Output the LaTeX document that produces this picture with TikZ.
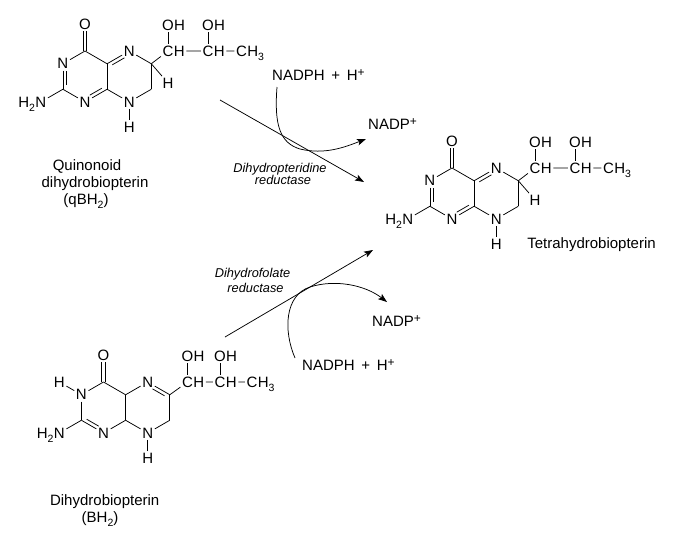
\documentclass[tikz,border=0pt]{standalone}
\usepackage{fontspec}
\setmainfont{Liberation Sans}
\usetikzlibrary{arrows.meta,calc}
\newcommand\sbs[1]{\raisebox{-0.28em}{\fontsize{10.5}{10.5}\selectfont #1}}
\newcommand\sps[1]{\raisebox{0.25em}{\fontsize{12}{12}\selectfont #1}}
\tikzset{
  atom/.style={inner sep=1.5pt, font=\fontsize{15}{15}\selectfont},
  hlp/.style={atom, anchor=base west, xshift=-3pt},
  hlpl/.style={atom, anchor=base east, xshift=3pt},
  bond/.style={line width=0.75pt},
  lbl/.style={font=\fontsize{15}{17}\selectfont, inner sep=0pt},
  enz/.style={font=\fontsize{12.8}{15}\selectfont\itshape, inner sep=0pt},
  rxn/.style={line width=0.75pt, -{Stealth[length=9pt,width=6.5pt,inset=2pt]}},
}
% inner line of a ring double bond: #1,#2 ends, #3 ring centre, #4,#5 shortenings
\newcommand\dbl[5]{\draw[bond, shorten <=#4, shorten >=#5] ($(#3)!0.84!(#1)$) -- ($(#3)!0.84!(#2)$);}
% common bicyclic core
\newcommand\core[1]{%
  \coordinate (#1c4) at (85,51);
  \coordinate (#1c4a) at (107.1,63.75);
  \coordinate (#1c8a) at (107.1,89.25);
  \node[atom] (#1n1) at (85,102) {N};
  \coordinate (#1c2) at (62.9,89.25);
  \node[atom] (#1n3) at (62.9,63.75) {N};
  \node[atom] (#1n5) at (129.2,51) {N};
  \coordinate (#1c6) at (151.3,63.75);
  \coordinate (#1c7) at (151.3,89.25);
  \node[atom] (#1n8) at (129.2,102) {N};
  \coordinate (#1lc) at (85,76.5);
  \coordinate (#1rc) at (129.2,76.5);
  \node[atom] (#1o) at (85,24) {O};
  \node[atom] (#1h8) at (129.2,127) {H};
  \node[atom] (#1na) at (40.8,102) {N};
  \node[hlpl] (#1nah) at (#1na.base west) {H\sbs{2}};
  \draw[bond] (#1c4) -- (#1n3);
  \draw[bond] (#1n3) -- (#1c2);
  \draw[bond] (#1c2) -- (#1n1);
  \draw[bond] (#1n1) -- (#1c8a);
  \draw[bond] (#1c8a) -- (#1c4a);
  \draw[bond] (#1c4a) -- (#1c4);
  \draw[bond] (#1c4a) -- (#1n5);
  \draw[bond] (#1n5) -- (#1c6);
  \draw[bond] (#1c6) -- (#1c7);
  \draw[bond] (#1c7) -- (#1n8);
  \draw[bond] (#1n8) -- (#1c8a);
  \draw[bond] (#1n8) -- (#1h8);
  \draw[bond] (#1c2) -- (#1na);
  \draw[bond] ([xshift=-1.8pt]#1c4) -- ([xshift=-1.8pt]#1o.south);
  \draw[bond] ([xshift=1.8pt]#1c4) -- ([xshift=1.8pt]#1o.south);
}
% tetrahydro-type molecule (top and right)
\newcommand\thmol[1]{%
  \core{#1}
  \dbl{#1n3}{#1c2}{#1lc}{5.5pt}{2pt}
  \dbl{#1c8a}{#1n1}{#1lc}{2pt}{5.5pt}
  \dbl{#1c4a}{#1n5}{#1rc}{2pt}{5.5pt}
  \node[atom] (#1h6) at (168,83) {H};
  \draw[bond] (#1c6) -- (#1h6);
  \node[atom] (#1ca) at (168,51) {C};
  \node[hlp] (#1cah) at (#1ca.base east) {H};
  \node[atom] (#1oa) at (168,25) {O};
  \node[hlp] (#1oah) at (#1oa.base east) {H};
  \node[atom] (#1cb) at (208,51) {C};
  \node[hlp] (#1cbh) at (#1cb.base east) {H};
  \node[atom] (#1ob) at (208,25) {O};
  \node[hlp] (#1obh) at (#1ob.base east) {H};
  \node[atom] (#1cc) at (241.5,51) {C};
  \node[hlp] (#1cch) at (#1cc.base east) {H\sbs{3}};
  \draw[bond] (#1c6) -- (#1ca);
  \draw[bond] (#1oa) -- (#1ca);
  \draw[bond] (#1cah) -- (#1cb);
  \draw[bond] (#1ob) -- (#1cb);
  \draw[bond] (#1cbh) -- (#1cc);
}
\begin{document}
\begin{tikzpicture}[x=1pt,y=-1pt]
\fill[white] (0,0) rectangle (700,541);
\useasboundingbox (0,0) rectangle (700,541);

% top molecule: quinonoid dihydrobiopterin
\begin{scope}
  \thmol{t}
\end{scope}
% right molecule: tetrahydrobiopterin
\begin{scope}[shift={(367,117)}]
  \thmol{r}
\end{scope}
% bottom molecule: dihydrobiopterin
\begin{scope}[shift={(18.5,331)}]
  \core{b}
  \dbl{bc2}{bn1}{blc}{2pt}{5.5pt}
  \dbl{bn5}{bc6}{brc}{5.5pt}{2pt}
  \node[atom] (bh3) at (40.8,51) {H};
  \draw[bond] (bn3) -- (bh3);
  \node[atom] (bca) at (169,51) {C};
  \node[hlp] (bcah) at (bca.base east) {H};
  \node[atom] (boa) at (169,25) {O};
  \node[hlp] (boah) at (boa.base east) {H};
  \node[atom] (bcb) at (201.5,51) {C};
  \node[hlp] (bcbh) at (bcb.base east) {H};
  \node[atom] (bob) at (201.5,25) {O};
  \node[hlp] (bobh) at (bob.base east) {H};
  \node[atom] (bcc) at (233.5,51) {C};
  \node[hlp] (bcch) at (bcc.base east) {H\sbs{3}};
  \draw[bond] (bc6) -- (bca);
  \draw[bond] (boa) -- (bca);
  \draw[bond] (bcah) -- (bcb);
  \draw[bond] (bob) -- (bcb);
  \draw[bond] (bcbh) -- (bcc);
\end{scope}

% names
\node[lbl, anchor=base] (q1) at (87,170) {Quinonoid};
\node[lbl, anchor=base] (q2) at (95,187) {dihydrobiopterin};
\node[lbl, anchor=base] (q3) at (86,204) {(qBH\sbs{2})};
\node[lbl, anchor=base] (d1) at (104.7,505) {Dihydrobiopterin};
\node[lbl, anchor=base] (d2) at (100,522) {(BH\sbs{2})};
\node[lbl, anchor=base] (th) at (591.5,248) {Tetrahydrobiopterin};

% upper reaction
\coordinate (a1s) at (220,100);
\coordinate (a1e) at (364,182);
\draw[rxn] (a1s) -- (a1e);
\node[lbl, anchor=base west] (nadph1) at (272,80.5) {NADPH \,+\, H\sps{+}};
\node[lbl, anchor=base west] (nadp1) at (368,129) {NADP\sps{+}};
\coordinate (c1s) at (277,87);
\coordinate (c1e) at (366,139);
\draw[rxn] (c1s) .. controls (274,125) and (280,143) .. (300,149)
               .. controls (325,155) and (345,147) .. (c1e);
\node[enz, anchor=base] (e1a) at (280,172) {Dihydropteridine};
\node[enz, anchor=base] (e1b) at (283,184.5) {reductase};

% lower reaction
\coordinate (a2s) at (225,337);
\coordinate (a2e) at (373,250);
\draw[rxn] (a2s) -- (a2e);
\node[lbl, anchor=base west] (nadp2) at (372,326.5) {NADP\sps{+}};
\node[lbl, anchor=base west] (nadph2) at (302,370) {NADPH \,+\, H\sps{+}};
\coordinate (c2s) at (295,358);
\coordinate (c2e) at (387,302);
\draw[rxn] (c2s) .. controls (283,330) and (285,295) .. (310,287)
               .. controls (335,279) and (365,285) .. (c2e);
\node[enz, anchor=base] (e2a) at (252.5,277) {Dihydrofolate};
\node[enz, anchor=base] (e2b) at (255.5,292) {reductase};
\end{tikzpicture}
\end{document}
